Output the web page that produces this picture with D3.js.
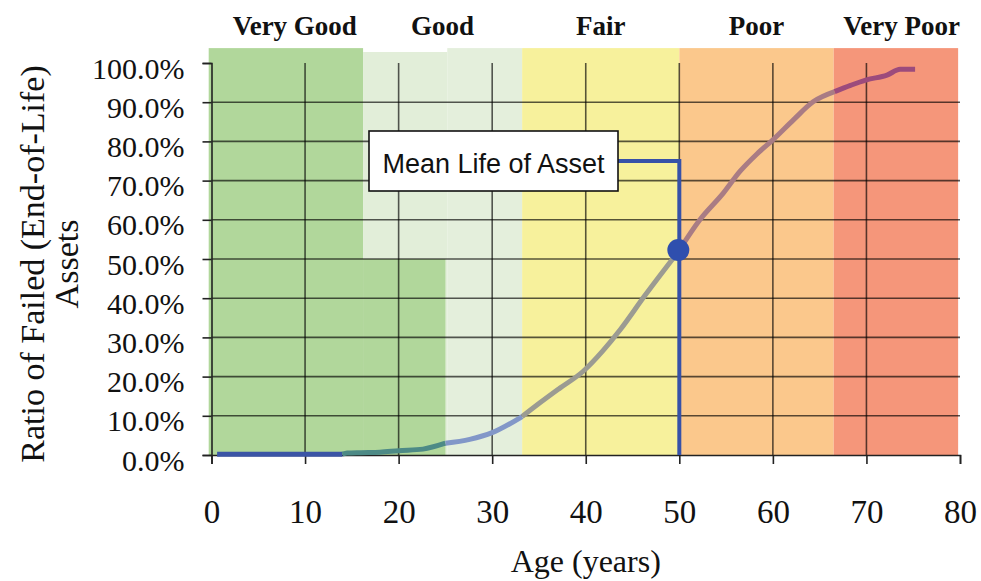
<!DOCTYPE html>
<html><head><meta charset="utf-8">
<script src="https://cdn.jsdelivr.net/npm/d3@7"></script>
<style>body{margin:0;background:#fff}</style>
</head><body><svg id="c" width="981" height="581"></svg>
<script>
// ---- data ----
const ages        = [0.6, 14, 14.5, 16, 18, 20, 22.6, 25, 27.6, 30, 33.2, 35.1, 37.2, 39.7, 41.8, 43.7, 46.3, 49.9, 52.2, 54.7, 56.5, 58.3, 60, 62.2, 64.3, 66.6, 68.3, 70, 72.2, 73.6, 75.2];
const failedRatio = [0.2, 0.2, 0.5, 0.6, 0.7, 1.1, 1.5, 3.0, 4.0, 5.7, 9.8, 13.3, 17.0, 21.3, 26.5, 32.0, 40.6, 51.9, 60.0, 66.8, 72.4, 76.8, 80.4, 85.5, 90.1, 92.7, 94.3, 95.7, 96.9, 98.4, 98.4];
const segmentEnds = [14, 25, 33.2, 49.9, 66.6, 75.2];
const bandNames   = ["Very Good", "Good", "Fair", "Poor", "Very Poor"];
const bandStart   = [-0.3, 16.2, 33.2, 50, 66.5];
const bandEnd     = [16.2, 33.2, 50, 66.5, 79.8];
const xTicks      = [0, 10, 20, 30, 40, 50, 60, 70, 80];
const yTicks      = [0, 10, 20, 30, 40, 50, 60, 70, 80, 90, 100];
const meanLife = 50, meanLifeRatio = 52.3, meanLabelLevel = 75;
const goodSplit = 25.2, greenExtensionTop = 50, bandTop = 103.8, goodLeftTop = 102.8;

// ---- styles ----
const bandColors = ["#b1d79b", "#e4efdc", "#f7f19c", "#fbc88c", "#f5967a"];
const segColors  = ["#3b55a6", "#4d8a86", "#8297c8", "#9b9b92", "#a97c84", "#9c4b7c"];
const serif = "Liberation Serif, Times New Roman, serif";

const svg = d3.select("#c");
const x = d3.scaleLinear().domain([0, 80]).range([211.5, 960]);
const y = d3.scaleLinear().domain([0, 100]).range([455, 63]);

// bands
const bands = bandNames.map((n, i) => ({name: n, s: bandStart[i], e: bandEnd[i], c: bandColors[i]}));
const gB = svg.append("g");
bands.forEach((b, i) => {
  if (b.name === "Good") {
    gB.append("rect").attr("x", x(b.s)).attr("width", x(goodSplit) - x(b.s))
      .attr("y", y(goodLeftTop)).attr("height", y(0) - y(goodLeftTop)).attr("fill", "#e2eed9");
    gB.append("rect").attr("x", x(goodSplit)).attr("width", x(b.e) - x(goodSplit))
      .attr("y", y(bandTop)).attr("height", y(0) - y(bandTop)).attr("fill", b.c);
    gB.append("rect").attr("x", x(b.s)).attr("width", x(goodSplit - 0.2) - x(b.s))
      .attr("y", y(greenExtensionTop)).attr("height", y(0) - y(greenExtensionTop)).attr("fill", bandColors[0]);
  } else {
    gB.append("rect").attr("x", x(b.s)).attr("width", x(b.e) - x(b.s))
      .attr("y", y(bandTop)).attr("height", y(0) - y(bandTop)).attr("fill", b.c);
  }
});

// gridlines
const gG = svg.append("g").attr("stroke", "#000").attr("stroke-opacity", 0.65).attr("stroke-width", 1.6);
xTicks.filter(t => t > 0 && t < 80).forEach(t => {
  gG.append("line").attr("x1", x(t)).attr("x2", x(t)).attr("y1", y(100)).attr("y2", y(0));
});
yTicks.filter(t => t > 0 && t < 100).forEach(t => {
  gG.append("line").attr("x1", x(0)).attr("x2", x(80)).attr("y1", y(t)).attr("y2", y(t));
});

// band labels (centred on the visible part of each band)
svg.append("g").selectAll("text").data(bands).join("text")
  .attr("x", d => x((Math.max(d.s, 1.6) + (d.e > 79 ? 81.0 : d.e)) / 2)).attr("y", 35)
  .attr("text-anchor", "middle").attr("font-family", serif)
  .attr("font-weight", "bold").attr("font-size", 27).attr("fill", "#111").text(d => d.name);

// axes
const xAxis = d3.axisBottom(x).tickValues(xTicks).tickSize(9).tickPadding(36).tickFormat(d3.format("d"));
const gx = svg.append("g").attr("transform", `translate(0,${y(0)})`).call(xAxis);
gx.select(".domain").attr("stroke", "#222").attr("stroke-width", 1.6);
gx.selectAll(".tick line").attr("stroke", "#222").attr("stroke-width", 1.6);
gx.selectAll("text").attr("font-family", serif).attr("font-size", 33).attr("fill", "#111");

const yAxis = d3.axisLeft(y).tickValues(yTicks).tickSize(9).tickPadding(18).tickFormat(d => d3.format(".1f")(d) + "%");
const gy = svg.append("g").attr("transform", `translate(${x(0)},0)`).call(yAxis);
gy.select(".domain").attr("stroke", "#222").attr("stroke-width", 1.6);
gy.selectAll(".tick line").attr("stroke", "#222").attr("stroke-width", 1.6);
gy.selectAll("text").attr("font-family", serif).attr("font-size", 30).attr("fill", "#111").attr("dy", "0.5em");

// axis titles
svg.append("text").attr("x", x(40)).attr("y", 572).attr("text-anchor", "middle")
  .attr("font-family", serif).attr("font-size", 32).attr("fill", "#111")
  .text("Age (years)");
const yt = svg.append("text").attr("transform", `translate(44,264) rotate(-90)`).attr("text-anchor", "middle")
  .attr("font-family", serif).attr("font-size", 34).attr("fill", "#111");
yt.append("tspan").attr("x", 0).attr("y", 0).text("Ratio of Failed (End-of-Life)");
yt.append("tspan").attr("x", 0).attr("y", 34).text("Assets");

// mean-life leader
const boxL = 369, boxR = 618, boxT = 131, boxB = 191;
svg.append("path")
  .attr("d", `M${x(meanLife)},${y(0)} L${x(meanLife)},${y(meanLabelLevel)} L${boxR},${y(meanLabelLevel)}`)
  .attr("fill", "none").attr("stroke", "#3651a8").attr("stroke-width", 4);

// curve
const pts = ages.map((a, i) => ({a, v: failedRatio[i]}));
const line = d3.line().x(d => x(d.a)).y(d => y(d.v)).curve(d3.curveMonotoneX);
let prev = -1;
segmentEnds.forEach((end, i) => {
  const seg = pts.filter(p => p.a >= prev && p.a <= end);
  prev = end;
  svg.append("path").attr("d", line(seg)).attr("fill", "none")
    .attr("stroke", segColors[i]).attr("stroke-width", 5).attr("stroke-linejoin", "round");
});

// mean life marker
svg.append("circle").attr("cx", x(meanLife) - 1).attr("cy", y(meanLifeRatio)).attr("r", 11).attr("fill", "#2f4fae");

// box
svg.append("rect").attr("x", boxL).attr("y", boxT).attr("width", boxR - boxL).attr("height", boxB - boxT)
  .attr("fill", "#fff").attr("stroke", "#111").attr("stroke-width", 1.6);
svg.append("text").attr("x", (boxL + boxR) / 2).attr("y", 173).attr("text-anchor", "middle")
  .attr("font-family", "Liberation Sans, Arial, sans-serif").attr("font-size", 27).attr("fill", "#111")
  .text("Mean Life of Asset");
</script></body></html>
